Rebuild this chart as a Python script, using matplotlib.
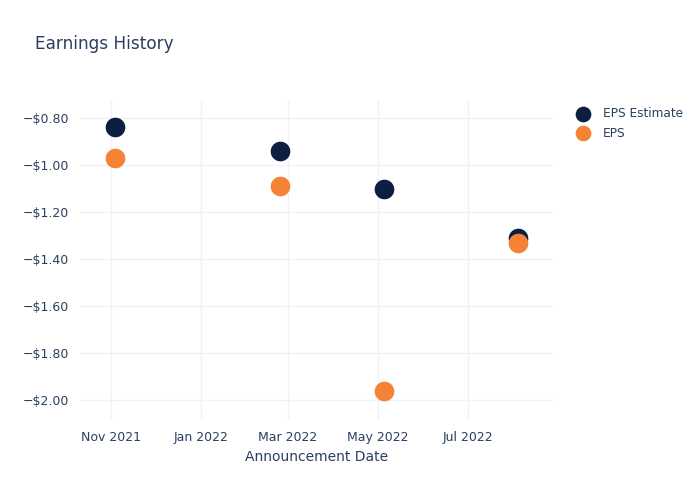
import matplotlib
matplotlib.use("Agg")
import matplotlib.pyplot as plt
import matplotlib.dates as mdates
import numpy as np
import pandas as pd

# data
dates = pd.to_datetime(["2021-11-04", "2022-02-24", "2022-05-05", "2022-08-04"])
eps_estimate = [-0.84, -0.94, -1.10, -1.31]
eps_actual = [-0.97, -1.09, -1.96, -1.33]

navy = "#0c1f40"
orange = "#f58235"
text_col = "#2a3f5f"
grid_col = "#eef2f9"

plt.rcParams["font.family"] = ["DejaVu Sans"]

fig = plt.figure(figsize=(7, 5), dpi=100)
ax = fig.add_axes([80 / 700, 80 / 500, 473 / 700, 320 / 500])

ax.scatter(dates, eps_estimate, s=200, color=navy, label="EPS Estimate", zorder=3, linewidths=0)
ax.scatter(dates, eps_actual, s=200, color=orange, label="EPS", zorder=4, linewidths=0)

ax.set_xlim(pd.Timestamp("2021-10-11"), pd.Timestamp("2022-08-28"))
ax.set_ylim(-2.085, -0.7234)

ax.xaxis.set_major_locator(mdates.MonthLocator(bymonth=[1, 3, 5, 7, 11]))
ax.xaxis.set_major_formatter(mdates.DateFormatter("%b %Y"))
ax.set_yticks(np.arange(-2.0, -0.79, 0.2))
ax.yaxis.set_major_formatter(plt.FuncFormatter(lambda v, p: ("\u2212" if v < 0 else "") + "${:.2f}".format(abs(v))))

ax.grid(True, color=grid_col, linewidth=1)
ax.set_axisbelow(True)
for s in ax.spines.values():
    s.set_visible(False)
ax.tick_params(length=0, colors=text_col, labelsize=9, pad=8)

ax.set_xlabel("Announcement Date", color=text_col, fontsize=10, labelpad=4)
fig.text(35 / 700, 1 - 44 / 500, "Earnings History", color=text_col, fontsize=12.2, va="center")

leg = fig.legend(loc="upper left", bbox_to_anchor=(575.5 / 700, 1 - 107 / 500), frameon=False,
                 fontsize=8.7, labelcolor=text_col, handlelength=1.2, handletextpad=1.05,
                 borderpad=0, borderaxespad=0, labelspacing=0.55, markerscale=0.8)

fig.savefig("out.png", dpi=100)
